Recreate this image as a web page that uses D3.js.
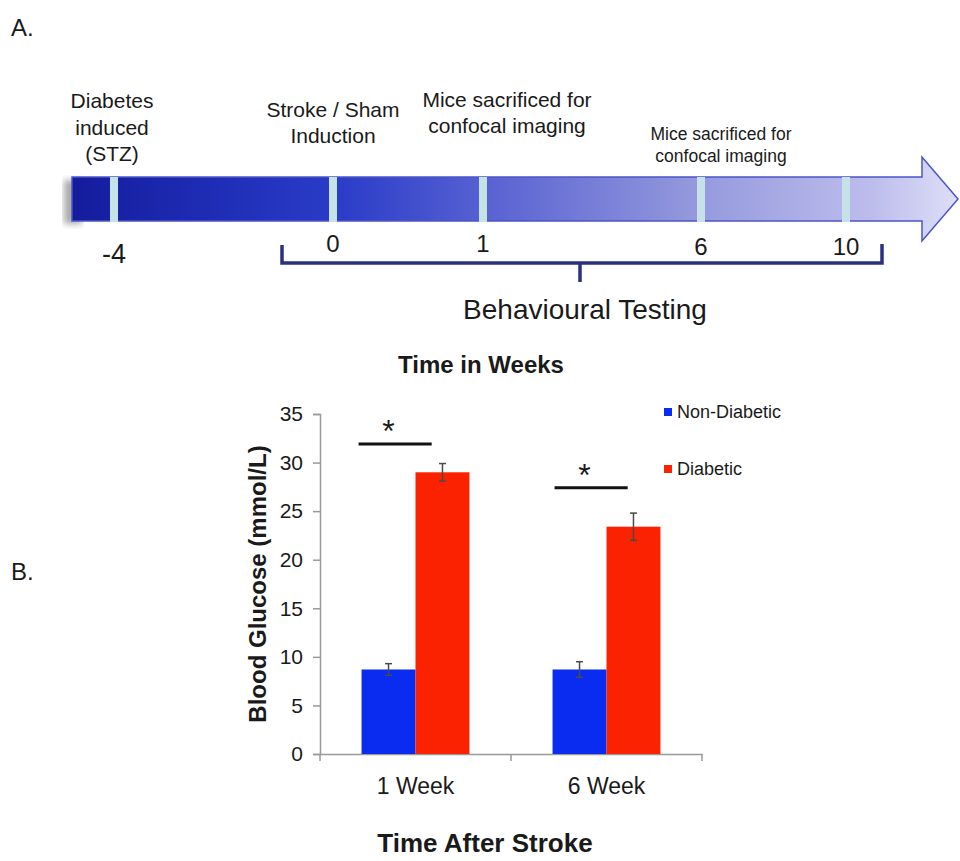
<!DOCTYPE html>
<html>
<head>
<meta charset="utf-8">
<script src="https://cdn.jsdelivr.net/npm/d3@7"></script>
<style>
  body { margin: 0; background: #fff; }
  text { font-family: "Liberation Sans", Arial, sans-serif; fill: #1a1a1a; }
</style>
</head>
<body>
<div id="chart"></div>
<script>
// ---- panel A: timeline ----
const weeks = [-4, 0, 1, 6, 10];
const weekLabels = ['-4', '0', '1', '6', '10'];
const eventWeeks = [-4, 0, 1, 6];
const eventLines = [
  ['Diabetes', 'induced', '(STZ)'],
  ['Stroke / Sham', 'Induction'],
  ['Mice sacrificed for', 'confocal imaging'],
  ['Mice sacrificed for', 'confocal imaging']
];
const behaviourLabel = 'Behavioural Testing';

// ---- panel B: blood glucose ----
const groups = ['1 Week', '6 Week'];
const series = ['Non-Diabetic', 'Diabetic'];
const nonDiabetic = [8.7, 8.7];
const nonDiabeticErr = [0.6, 0.8];
const diabetic = [29.0, 23.4];
const diabeticErr = [0.9, 1.4];
const sigLevels = [31.9, 27.4];   // height of the significance bars
const yTicks = [0, 5, 10, 15, 20, 25, 30, 35];
const colors = { 'Non-Diabetic': '#0a2cf0', 'Diabetic': '#fa2200' };

const W = 960, H = 861;
const svg = d3.select('#chart').append('svg')
  .attr('width', W).attr('height', H);

const defs = svg.append('defs');
const grad = defs.append('linearGradient')
  .attr('id', 'tlGrad').attr('gradientUnits', 'userSpaceOnUse')
  .attr('x1', 72).attr('x2', 958).attr('y1', 0).attr('y2', 0);
[[0, '#141c9c'], [0.15, '#1e2cb4'], [0.3, '#2a3cc8'], [0.47, '#5862d2'],
 [0.7, '#9498dc'], [0.9, '#bcbcec'], [1, '#dedef8']].forEach(s => {
  grad.append('stop').attr('offset', s[0]).attr('stop-color', s[1]);
});
defs.append('filter').attr('id', 'blur')
  .append('feGaussianBlur').attr('stdDeviation', 3);

// panel letters
svg.append('text').attr('x', 11).attr('y', 36).style('font-size', '24px').text('A.');
svg.append('text').attr('x', 11).attr('y', 580).style('font-size', '24px').text('B.');

// timeline scale (weeks are not evenly spaced on the drawing)
const tx = d3.scaleLinear().domain(weeks).range([114, 333, 483, 701, 846]);

const barTop = 177, barBot = 221;
const tl = svg.append('g');

tl.append('rect')
  .attr('x', 64).attr('y', barTop + 3).attr('width', 18).attr('height', barBot - barTop)
  .attr('fill', '#aaa').attr('filter', 'url(#blur)');

const shaftEnd = 922, tipX = 958;
tl.append('path')
  .attr('d', `M72,${barTop} H${shaftEnd} V157 L${tipX},199 L${shaftEnd},241 V${barBot} H72 Z`)
  .attr('fill', 'url(#tlGrad)')
  .attr('stroke', '#4b55c8').attr('stroke-width', 1.5);

tl.selectAll('.marker')
  .data(weeks)
  .enter()
  .append('rect')
  .attr('class', 'marker')
  .attr('x', d => tx(d) - 4)
  .attr('y', barTop)
  .attr('width', 8)
  .attr('height', barBot - barTop + 1)
  .attr('fill', '#c4e2e8');

tl.selectAll('.wlab')
  .data(weekLabels)
  .enter()
  .append('text')
  .attr('class', 'wlab')
  .attr('x', (d, i) => tx(weeks[i]))
  .attr('y', (d, i) => weeks[i] < 0 ? 263 : (weeks[i] > 1 ? 255 : 252))
  .attr('text-anchor', 'middle')
  .style('font-size', (d, i) => weeks[i] < 0 ? '27px' : '24px')
  .text(d => d);

// event captions above the bar
const evStyle = [
  { dx: -2, y: 108, size: 21, lh: 26.5 },
  { dx: 0, y: 117, size: 21, lh: 26 },
  { dx: 24, y: 107, size: 21, lh: 26 },
  { dx: 20, y: 140, size: 17.5, lh: 22 }
];
eventLines.forEach((lines, i) => {
  const s = evStyle[i];
  const t = tl.append('text')
    .attr('text-anchor', 'middle')
    .style('font-size', s.size + 'px');
  lines.forEach((ln, j) => {
    t.append('tspan')
      .attr('x', tx(eventWeeks[i]) + s.dx)
      .attr('y', s.y + j * s.lh)
      .text(ln);
  });
});

// behavioural testing bracket
const bx0 = tx(0) - 51, bx1 = tx(10) + 36, by = 263;
const bmid = (bx0 + bx1) / 2 - 2;
tl.append('path')
  .attr('d', `M${bx0},245 V${by} H${bx1} V244 M${bmid},${by} V282`)
  .attr('fill', 'none')
  .attr('stroke', '#2b3080').attr('stroke-width', 3.5);
tl.append('text')
  .attr('x', bmid + 5).attr('y', 319)
  .attr('text-anchor', 'middle')
  .style('font-size', '28px')
  .text(behaviourLabel);

svg.append('text')
  .attr('x', 481).attr('y', 373)
  .attr('text-anchor', 'middle')
  .style('font-size', '24px').style('font-weight', 'bold')
  .text('Time in Weeks');

// ---- bar chart ----
const x0 = d3.scaleBand().domain(groups).range([320, 702]).padding(0);
const x1 = d3.scaleBand().domain(series).range([0, x0.bandwidth()])
  .paddingInner(0).paddingOuter(0.77);
const y = d3.scaleLinear().domain([0, 35]).range([754, 414]);

const rows = groups.map((g, i) => ({
  group: g,
  values: [
    { key: series[0], v: nonDiabetic[i], e: nonDiabeticErr[i] },
    { key: series[1], v: diabetic[i], e: diabeticErr[i] }
  ]
}));

const chart = svg.append('g');

const yAxis = chart.append('g')
  .attr('transform', 'translate(320,0)')
  .call(d3.axisLeft(y).tickValues(yTicks).tickSize(7).tickPadding(10));
yAxis.selectAll('text').style('font-size', '21px').attr('fill', '#222');

const xAxis = chart.append('g')
  .attr('transform', `translate(0,${y(0)})`)
  .call(d3.axisBottom(x0).tickSize(0).tickPadding(24));
xAxis.selectAll('text').style('font-size', '23px').attr('fill', '#222');
// category boundary ticks
xAxis.selectAll('.sep')
  .data([320, x0('6 Week'), 702])
  .enter()
  .append('line')
  .attr('x1', d => d).attr('x2', d => d)
  .attr('y1', 0).attr('y2', 7)
  .attr('stroke', '#999').attr('stroke-width', 1.5);

[yAxis, xAxis].forEach(a => {
  a.select('.domain').attr('stroke', '#999').attr('stroke-width', 1.5);
  a.selectAll('.tick line').attr('stroke', '#999').attr('stroke-width', 1.5);
});

const grp = chart.selectAll('.grp')
  .data(rows)
  .enter()
  .append('g')
  .attr('class', 'grp')
  .attr('transform', d => `translate(${x0(d.group)},0)`);

grp.selectAll('rect')
  .data(d => d.values)
  .enter()
  .append('rect')
  .attr('x', d => x1(d.key))
  .attr('y', d => y(d.v))
  .attr('width', x1.bandwidth())
  .attr('height', d => y(0) - y(d.v))
  .attr('fill', d => colors[d.key]);

// error bars
const eb = grp.selectAll('.err')
  .data(d => d.values)
  .enter()
  .append('g')
  .attr('class', 'err')
  .attr('stroke', '#4a4a4a').attr('stroke-width', 1.5);
eb.append('line')
  .attr('x1', d => x1(d.key) + x1.bandwidth() / 2)
  .attr('x2', d => x1(d.key) + x1.bandwidth() / 2)
  .attr('y1', d => y(d.v + d.e)).attr('y2', d => y(d.v - d.e));
eb.selectAll('.cap')
  .data(d => [[d, d.v + d.e], [d, d.v - d.e]])
  .enter()
  .append('line')
  .attr('x1', d => x1(d[0].key) + x1.bandwidth() / 2 - 3.5)
  .attr('x2', d => x1(d[0].key) + x1.bandwidth() / 2 + 3.5)
  .attr('y1', d => y(d[1])).attr('y2', d => y(d[1]));

// significance bars
grp.append('line')
  .attr('x1', (d, i) => x1(series[0]) - 3 + i * 5)
  .attr('x2', (d, i) => x1(series[1]) + x1.bandwidth() * 0.3 + i * 5)
  .attr('y1', (d, i) => y(sigLevels[i]))
  .attr('y2', (d, i) => y(sigLevels[i]))
  .attr('stroke', '#111').attr('stroke-width', 3);
grp.append('text')
  .attr('x', (d, i) => x1(series[0]) + x1.bandwidth() * 0.5 + i * 5)
  .attr('y', (d, i) => y(sigLevels[i]) - 2)
  .attr('text-anchor', 'middle')
  .style('font-size', '32px')
  .text('*');

// legend
const legend = chart.selectAll('.leg')
  .data(series)
  .enter()
  .append('g')
  .attr('class', 'leg')
  .attr('transform', (d, i) => `translate(664,${408 + i * 57})`);
legend.append('rect')
  .attr('width', 8).attr('height', 8)
  .attr('fill', d => colors[d]);
legend.append('text')
  .attr('x', 13).attr('y', 10)
  .style('font-size', '18px')
  .text(d => d);

// axis titles
chart.append('text')
  .attr('transform', `translate(266,${(y(0) + y(35)) / 2}) rotate(-90)`)
  .attr('text-anchor', 'middle')
  .style('font-size', '24px').style('font-weight', 'bold')
  .text('Blood Glucose (mmol/L)');
chart.append('text')
  .attr('x', 485).attr('y', 852)
  .attr('text-anchor', 'middle')
  .style('font-size', '26px').style('font-weight', 'bold')
  .text('Time After Stroke');
</script>
</body>
</html>
